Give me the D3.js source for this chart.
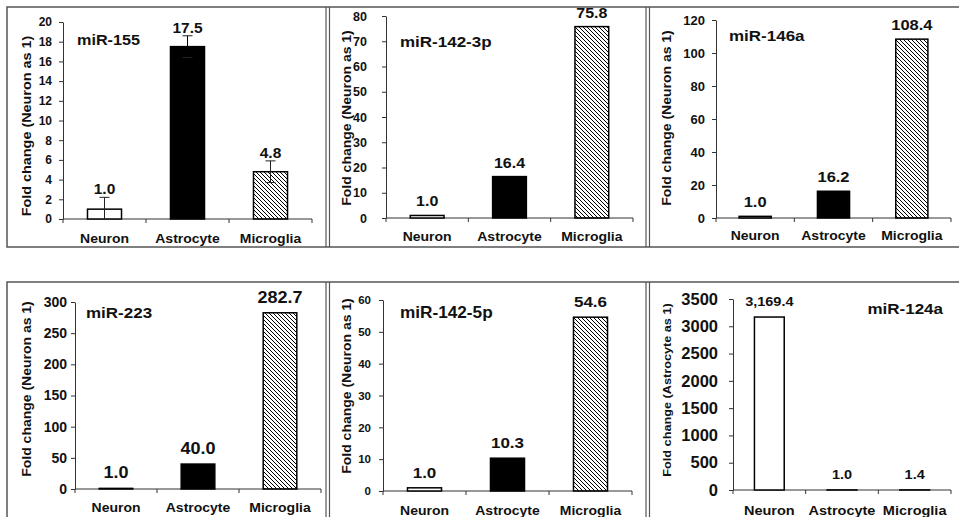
<!DOCTYPE html>
<html>
<head>
<meta charset="utf-8">
<title>miRNA fold change</title>
<script src="https://cdnjs.cloudflare.com/ajax/libs/d3/7.8.5/d3.min.js"></script>
<style>
  body { margin: 0; background: #fff; }
  svg text { font-family: "Liberation Sans", Arial, sans-serif; font-weight: bold; fill: #111; }
</style>
</head>
<body>
<script>
// ---- data ----
var categories = ["Neuron", "Astrocyte", "Microglia"];

var mir155    = [1.0, 17.5, 4.8];
var mir155Err = [1.2, 1.1, 1.1];
var mir1423p  = [1.0, 16.4, 75.8];
var mir146a   = [1.0, 16.2, 108.4];
var mir223    = [1.0, 40.0, 282.7];
var mir1425p  = [1.0, 10.3, 54.6];
var mir124a   = [3169.4, 1.0, 1.4];

var panelTitles = ["miR-155", "miR-142-3p", "miR-146a", "miR-223", "miR-142-5p", "miR-124a"];
var yTitles = ["Fold change (Neuron as 1)", "Fold change (Neuron as 1)", "Fold change (Neuron as 1)",
               "Fold change (Neuron as 1)", "Fold change (Neuron as 1)", "Fold change (Astrocyte as 1)"];
var yMaxes = [20, 80, 120, 300, 60, 3500];
var ySteps = [2, 10, 20, 50, 10, 500];
var seriesList = [mir155, mir1423p, mir146a, mir223, mir1425p, mir124a];
var errList = [mir155Err, null, null, null, null, null];

// ---- layout (pixels) ----
var layout = [
  {x0: 63,  x1: 312, yb: 219, yt: 22,  tx: 77,  ty: 45,  ta: "start", ytx: 27,  yty: 126, cy: 243, tickFs: 12,   tickPad: 7,  valFs: 15.5, catFs: 14,   titleFs: 16.2, ytFs: 14.4, gap: 3},
  {x0: 386, x1: 633, yb: 218, yt: 16,  tx: 400, ty: 47,  ta: "start", ytx: 347, yty: 118, cy: 241, tickFs: 12.5, tickPad: 15, valFs: 16,   catFs: 14,   titleFs: 17,   ytFs: 14,   gap: 9},
  {x0: 716, x1: 951, yb: 218, yt: 20,  tx: 729, ty: 41,  ta: "start", ytx: 667, yty: 118, cy: 240, tickFs: 13,   tickPad: 7,  valFs: 16.5, catFs: 14,   titleFs: 17,   ytFs: 14,   gap: 9},
  {x0: 75,  x1: 321, yb: 489, yt: 302, tx: 86,  ty: 318, ta: "start", ytx: 27,  yty: 389, cy: 512, tickFs: 14,   tickPad: 4,  valFs: 18,   catFs: 14,   titleFs: 17,   ytFs: 14,   gap: 10},
  {x0: 383, x1: 632, yb: 491, yt: 300, tx: 400, ty: 318, ta: "start", ytx: 347, yty: 386, cy: 515, tickFs: 11.5, tickPad: 8,  valFs: 17,   catFs: 14,   titleFs: 17.2, ytFs: 14,   gap: 10},
  {x0: 733, x1: 951, yb: 490, yt: 299, tx: 943, ty: 314, ta: "end",   ytx: 667, yty: 390, cy: 515, tickFs: 16.5, tickPad: 11, valFs: 14.5, catFs: 14.5, titleFs: 17,   ytFs: 12.7, gap: 11}
];

var fills = ["#fff", "#000", "url(#hatch)"];
var STRETCH = 1.1;
var fmt = d3.format(",.1f");

var svg = d3.select("body").append("svg")
  .attr("width", 959)
  .attr("height", 517);

var defs = svg.append("defs");
defs.append("pattern")
    .attr("id", "hatch")
    .attr("patternUnits", "userSpaceOnUse")
    .attr("width", 4).attr("height", 4)
  .append("path")
    .attr("d", "M-1,-1 L5,5 M-1,3 L1,5 M3,-1 L5,1")
    .attr("stroke", "#000")
    .attr("stroke-width", 1);

// text helper, glyphs slightly widened like the scanned figure
function label(g, x, y, str, fs, anchor, rot) {
  return g.append("text")
    .attr("transform", "translate(" + x + "," + y + ")" + (rot ? " rotate(" + rot + ")" : "") + " scale(" + STRETCH + ",1)")
    .attr("text-anchor", anchor || "middle")
    .attr("font-size", fs / STRETCH)
    .text(str);
}

// frames
var frameColor = "#555";
function frame(top, bottom, closeBottom) {
  var d = "M959," + top + " H7 V" + bottom + (closeBottom ? " H959" : "");
  svg.append("path").attr("d", d).attr("fill", "none").attr("stroke", frameColor).attr("stroke-width", 1.5);
  [326, 329.5, 646, 649.5].forEach(function(xx) {
    svg.append("line").attr("x1", xx).attr("x2", xx).attr("y1", top).attr("y2", bottom)
      .attr("stroke", frameColor).attr("stroke-width", 1.2);
  });
}
frame(7, 247, true);
frame(282, 517, false);

function drawPanel(i) {
  var p = layout[i];
  var values = seriesList[i];
  var errs = errList[i];
  var g = svg.append("g");

  var x = d3.scaleBand().domain(categories).range([p.x0, p.x1])
    .paddingInner(0.59).paddingOuter(0.295);
  var y = d3.scaleLinear().domain([0, yMaxes[i]]).range([p.yb, p.yt]);

  // y axis
  var ya = g.append("g")
    .attr("transform", "translate(" + p.x0 + ",0)")
    .call(d3.axisLeft(y)
      .tickValues(d3.range(0, yMaxes[i] + ySteps[i] / 2, ySteps[i]))
      .tickSize(4).tickSizeOuter(0).tickPadding(p.tickPad)
      .tickFormat(d3.format("d")));
  ya.attr("font-family", null).attr("font-size", null);
  ya.select(".domain").attr("stroke", "#333");
  ya.selectAll(".tick line").attr("stroke", "#333");
  ya.selectAll(".tick text").attr("font-size", p.tickFs).attr("fill", "#111");

  // x axis: baseline plus ticks at category boundaries
  g.append("line").attr("x1", p.x0).attr("x2", p.x1).attr("y1", p.yb).attr("y2", p.yb)
    .attr("stroke", "#333");
  d3.range(categories.length + 1).forEach(function(k) {
    var xx = p.x0 + k * x.step();
    g.append("line").attr("x1", xx).attr("x2", xx).attr("y1", p.yb).attr("y2", p.yb + 4)
      .attr("stroke", "#333");
  });

  // bars
  g.selectAll("rect.bar").data(values).enter().append("rect")
    .attr("class", "bar")
    .attr("x", function(d, k) { return x(categories[k]); })
    .attr("y", function(d) { return y(d); })
    .attr("width", x.bandwidth())
    .attr("height", function(d) { return p.yb - y(d); })
    .attr("fill", function(d, k) { return fills[k]; })
    .attr("stroke", "#000")
    .attr("stroke-width", 1.5);

  // error bars
  if (errs) {
    values.forEach(function(v, k) {
      var cx = x(categories[k]) + x.bandwidth() / 2;
      var lo = Math.max(0, v - errs[k]), hi = v + errs[k];
      g.append("line").attr("x1", cx).attr("x2", cx).attr("y1", y(lo)).attr("y2", y(hi))
        .attr("stroke", k === 1 ? "#000" : "#222").attr("stroke-width", 1);
      g.append("line").attr("x1", cx - 5).attr("x2", cx + 5).attr("y1", y(hi)).attr("y2", y(hi))
        .attr("stroke", "#222").attr("stroke-width", 1);
      if (v - errs[k] > 0) {
        g.append("line").attr("x1", cx - 5).attr("x2", cx + 5).attr("y1", y(lo)).attr("y2", y(lo))
          .attr("stroke", "#222").attr("stroke-width", 1);
      }
    });
  }

  // value labels
  values.forEach(function(v, k) {
    var top = errs ? y(v + errs[k]) : y(v);
    label(g, x(categories[k]) + x.bandwidth() / 2, top - p.gap, fmt(v), p.valFs, "middle");
  });

  // category labels
  categories.forEach(function(c) {
    label(g, x(c) + x.bandwidth() / 2, p.cy, c, p.catFs, "middle");
  });

  // panel title
  label(g, p.tx, p.ty, panelTitles[i], p.titleFs, p.ta);

  // y title
  label(g, p.ytx, p.yty, yTitles[i], p.ytFs, "middle", -90)
    .attr("dominant-baseline", "central");
}

d3.range(6).forEach(drawPanel);
</script>
</body>
</html>
